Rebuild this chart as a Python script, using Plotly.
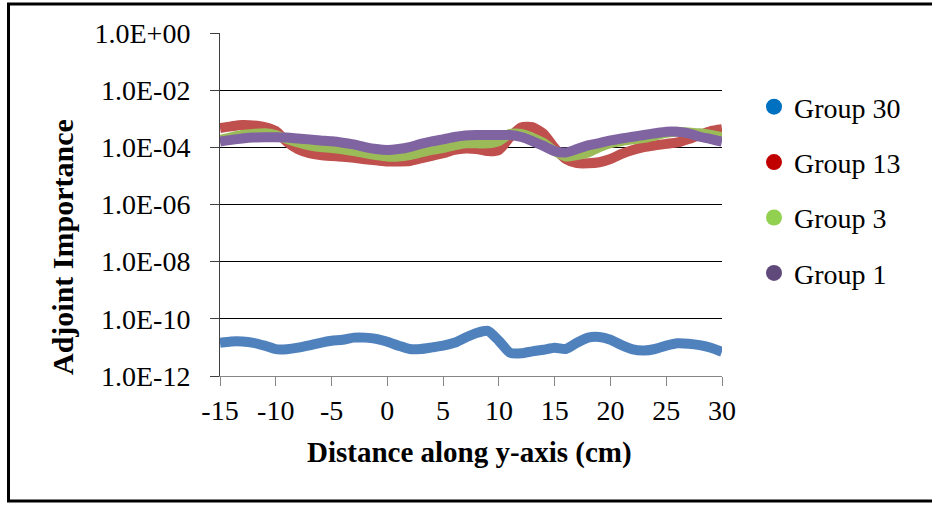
import plotly.graph_objects as go

# Position along the y-axis (cm)
distance = list(range(-15, 31))

group30 = [1.45e-11, 1.62e-11, 1.62e-11, 1.45e-11, 1.15e-11, 8.7e-12, 8.7e-12, 9.8e-12,
           1.18e-11, 1.45e-11, 1.7e-11, 1.85e-11, 2.2e-11, 2.2e-11, 2.0e-11, 1.58e-11,
           1.15e-11, 8.8e-12, 8.8e-12, 1.0e-11, 1.15e-11, 1.45e-11, 2.2e-11, 3.2e-11,
           3.8e-11, 1.7e-11, 6.5e-12, 6.2e-12, 7.3e-12, 8.3e-12, 9.8e-12, 8.8e-12,
           1.45e-11, 2.2e-11, 2.3e-11, 1.85e-11, 1.2e-11, 8.5e-12, 7.8e-12, 8.8e-12,
           1.15e-11, 1.4e-11, 1.35e-11, 1.2e-11, 9.8e-12, 7.0e-12]

group13 = [4.7e-4, 5.4e-4, 6.0e-4, 5.8e-4, 5.1e-4, 3.7e-4, 1.55e-4, 8.5e-5,
           6.3e-5, 5.4e-5, 5.0e-5, 4.7e-5, 4.3e-5, 3.8e-5, 3.5e-5, 3.2e-5,
           3.2e-5, 3.3e-5, 4.1e-5, 5.0e-5, 6.2e-5, 8.1e-5, 9.1e-5, 8.7e-5,
           7.4e-5, 8.1e-5, 2.3e-4, 5.0e-4, 5.1e-4, 3.0e-4, 9.5e-5, 3.9e-5,
           2.8e-5, 2.75e-5, 3.0e-5, 3.9e-5, 5.9e-5, 8.1e-5, 1.02e-4, 1.17e-4,
           1.32e-4, 1.48e-4, 1.95e-4, 2.7e-4, 3.7e-4, 4.3e-4]

group3 = [1.82e-4, 2.24e-4, 2.7e-4, 2.95e-4, 3.1e-4, 2.7e-4, 1.95e-4, 1.48e-4,
          1.17e-4, 1.02e-4, 9.5e-5, 8.5e-5, 7.4e-5, 6.3e-5, 5.4e-5, 4.8e-5,
          4.8e-5, 5.4e-5, 6.6e-5, 8.1e-5, 9.5e-5, 1.17e-4, 1.38e-4, 1.38e-4,
          1.38e-4, 1.66e-4, 2.95e-4, 2.95e-4, 2.14e-4, 1.41e-4, 7.4e-5, 4.8e-5,
          5.4e-5, 6.6e-5, 1.02e-4, 1.41e-4, 1.66e-4, 1.9e-4, 2.14e-4, 2.6e-4,
          3.2e-4, 3.5e-4, 3.3e-4, 3.1e-4, 2.7e-4, 2.3e-4]

group1 = [1.58e-4, 1.82e-4, 2.04e-4, 2.2e-4, 2.24e-4, 2.24e-4, 2.2e-4, 2.04e-4,
          1.9e-4, 1.74e-4, 1.62e-4, 1.45e-4, 1.26e-4, 1.02e-4, 8.7e-5, 8.1e-5,
          8.7e-5, 1.02e-4, 1.32e-4, 1.62e-4, 1.9e-4, 2.3e-4, 2.6e-4, 2.7e-4,
          2.7e-4, 2.7e-4, 2.7e-4, 2.3e-4, 1.66e-4, 1.12e-4, 7.4e-5, 6.6e-5,
          8.7e-5, 1.17e-4, 1.41e-4, 1.74e-4, 2.04e-4, 2.34e-4, 2.7e-4, 3.1e-4,
          3.5e-4, 3.5e-4, 3.1e-4, 2.34e-4, 1.95e-4, 1.58e-4]

series_names = ["Group 30", "Group 13", "Group 3", "Group 1"]
series_values = [group30, group13, group3, group1]
line_colors = ["#4F81BD", "#C0504D", "#9BBB59", "#8064A2"]
legend_colors = ["#0070C0", "#C00000", "#92D050", "#604A7B"]

y_tickvals = [1e0, 1e-2, 1e-4, 1e-6, 1e-8, 1e-10, 1e-12]
y_ticktext = ["1.0E+00", "1.0E-02", "1.0E-04", "1.0E-06", "1.0E-08", "1.0E-10", "1.0E-12"]
x_tickvals = [-15, -10, -5, 0, 5, 10, 15, 20, 25, 30]
x_ticktext = ["-15", "-10", "-5", "0", "5", "10", "15", "20", "25", "30"]

FONT = "Liberation Serif, Times New Roman, serif"

fig = go.Figure()

for name, vals, lc in zip(series_names, series_values, line_colors):
    fig.add_trace(go.Scatter(
        x=distance, y=vals, mode="lines", name=name,
        line=dict(color=lc, width=10, shape="spline", smoothing=0.6),
        showlegend=False, hoverinfo="x+y+name",
    ))

# legend entries drawn as filled circles
for i, (name, mc) in enumerate(zip(series_names, legend_colors)):
    fig.add_trace(go.Scatter(
        x=[None], y=[None], mode="markers", name=name,
        marker=dict(color=mc, size=16, symbol="circle"),
        legendgroup=f"g{i}",
    ))

W, H = 932, 506
L, R, T, B = 220, 210, 33, 130
pw, ph = W - L - R, H - T - B


def px_x(p):
    return (p - L) / pw


def px_y(p):
    return (H - B - p) / ph


fig.update_layout(
    width=W, height=H,
    margin=dict(l=L, r=R, t=T, b=B),
    paper_bgcolor="white", plot_bgcolor="white",
    font=dict(family=FONT, color="black", size=28),
    showlegend=True,
    legend=dict(
        x=px_x(754), y=px_y(82), xanchor="left", yanchor="top",
        font=dict(family=FONT, size=28, color="black"),
        tracegroupgap=16, traceorder="grouped",
        bgcolor="rgba(0,0,0,0)", itemwidth=30,
    ),
    xaxis=dict(
        range=[-15, 30], tickvals=x_tickvals, ticktext=x_ticktext, showgrid=False,
        zeroline=False, showline=True, linecolor="#868686", linewidth=1,
        ticks="outside", ticklen=9, tickcolor="#868686", tickwidth=1,
        tickfont=dict(family=FONT, size=28, color="black"),
    ),
    yaxis=dict(
        type="log", range=[-12, 0], tickvals=y_tickvals, ticktext=y_ticktext,
        showgrid=True, gridcolor="#000000", gridwidth=1,
        zeroline=False, showline=True, linecolor="#404040", linewidth=1,
        ticks="outside", ticklen=9, tickcolor="#404040", tickwidth=1,
        tickfont=dict(family=FONT, size=28, color="black"),
        ticklabelstandoff=14,
    ),
    annotations=[
        dict(text="<b>Adjoint Importance</b>", xref="paper", yref="paper",
             x=px_x(62), y=px_y(247), textangle=-90, showarrow=False,
             xanchor="center", yanchor="middle",
             font=dict(family=FONT, size=30, color="black")),
        dict(text="<b>Distance along y-axis (cm)</b>", xref="paper", yref="paper",
             x=px_x(469), y=px_y(452), showarrow=False,
             xanchor="center", yanchor="middle",
             font=dict(family=FONT, size=29, color="black")),
    ],
    shapes=[
        dict(type="rect", xref="paper", yref="paper", layer="above",
             x0=px_x(8.5), x1=px_x(960), y0=px_y(501), y1=px_y(4),
             line=dict(color="black", width=3), fillcolor="rgba(0,0,0,0)"),
    ],
)

fig.write_html("out.html")
